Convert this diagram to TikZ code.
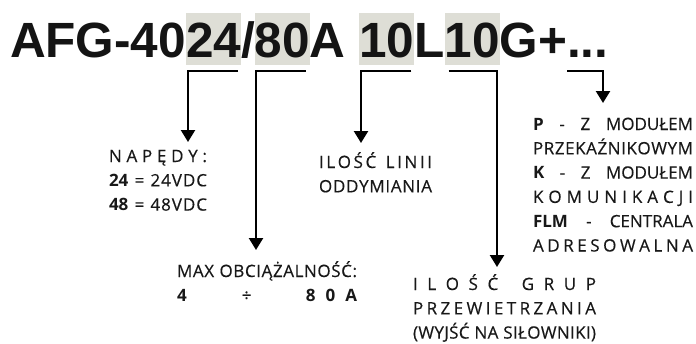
\documentclass[tikz,border=0pt]{standalone}
\usepackage{fontspec}
\setmainfont{Open Sans}[UprightFeatures={FakeBold=0.35}]
\newfontfamily\titlefont{Liberation Sans}
\usetikzlibrary{arrows.meta,calc}
\definecolor{boxgray}{RGB}{222,222,214}
\definecolor{ink}{RGB}{24,24,24}
\makeatletter
\def\spr@stop{\spr@stop}
\def\spr@bar{|}
\newcommand\spl[2]{\hbox to #1{\spr@first#2\spr@stop}}
\def\spr@first#1{{#1}\spr@ad}
\def\spr@ad#1{\def\spr@tmp{#1}\ifx\spr@tmp\spr@stop\else\hfill\spr@one{#1}\expandafter\spr@ad\fi}
\def\spr@one#1{\def\spr@tmp{#1}\ifx\spr@tmp\spr@bar\hspace{0.25em}\else{#1}\fi}
\makeatother
\newcommand\lines[1]{\vtop{\baselineskip=24.3pt\lineskiplimit=-30pt\lineskip=0pt #1}}
\begin{document}
\begin{tikzpicture}[x=1pt,y=-1pt,
  tt/.style={inner sep=0pt, outer sep=0pt, anchor=base west,
    font=\titlefont\bfseries\fontsize{49.5}{50}\selectfont, text=black!92},
  hb/.style={tt, fill=boxgray, text height=44pt, text depth=8pt},
  arr/.style={line width=2.3pt, -{Triangle[width=14pt,length=12pt]}},
  blk/.style={inner sep=0pt, outer sep=0pt, anchor=base west,
    font=\fontsize{17}{24.3}\selectfont, text=ink}]
\fill[white] (0,0) rectangle (696,343);
\useasboundingbox (0,0) rectangle (696,343);
% title
\node[tt] (t1) at (10,57) {AFG-40};
\node[hb] (b1) at (t1.base east) {24};
\node[tt] (t2) at (b1.base east) {/};
\node[hb] (b2) at (t2.base east) {80};
\node[tt] (t3) at (b2.base east) {A\kern0.278em};
\node[hb] (b3) at (t3.base east) {10};
\node[tt] (t4) at (b3.base east) {L};
\node[hb] (b4) at (t4.base east) {10};
\node[tt] (t5) at (b4.base east) {G+};
\node[tt] (t6) at (t5.base east) {...};
% text blocks
\node[blk] (napedy) at (109,162) {\lines{%
  \spl{98pt}{NAPĘDY:}
  \spl{98pt}{{\bfseries 24}|=|24VDC}
  \spl{98pt}{{\bfseries 48}|=|48VDC}}};
\node[blk] (obc) at (177,277) {\lines{%
  \spl{180pt}{MAX|OBCIĄŻALNOŚĆ:}
  \hbox to 180pt{{\bfseries 4}\hspace{55pt}÷\hfill{\bfseries 8\hspace{10pt}0\hspace{10pt}A}}}};
\node[blk] (linii) at (319,168) {\lines{%
  \spl{113pt}{ILOŚĆ|LINII}
  \spl{113pt}{ODDYMIANIA}}};
\node[blk] (grup) at (413,290) {\lines{%
  \spl{183pt}{ILOŚĆ|GRUP}
  \spl{183pt}{PRZEWIETRZANIA}
  \spl{183pt}{(WYJŚĆ|NA|SIŁOWNIKI)}}};
\node[blk] (modul) at (533,130) {\lines{%
  \spl{160pt}{{\bfseries P}{-}{Z}{MODUŁEM}}
  \spl{160pt}{PRZEKAŹNIKOWYM}
  \spl{160pt}{{\bfseries K}{-}{Z}{MODUŁEM}}
  \spl{160pt}{KOMUNIKACJI}
  \spl{160pt}{{\bfseries FLM}{-}{CENTRALA}}
  \spl{160pt}{ADRESOWALNA}}};
% connectors
\coordinate (k1) at ([xshift=-3pt,yshift=-6pt]b1.south east);
\coordinate (a1) at (188,142);
\coordinate (k2) at ([xshift=-4pt,yshift=-6pt]b2.south east);
\coordinate (a2) at (256,250);
\coordinate (k3) at ([xshift=-3pt,yshift=-6pt]b3.south east);
\coordinate (a3) at (361,143);
\coordinate (k4) at ([xshift=4pt,yshift=-6pt]b4.south west);
\coordinate (a4) at (497,267);
\coordinate (k5) at ([yshift=-14pt]t6.base west);
\coordinate (a5) at (603,103);
\draw[arr] (k1) -| (a1);
\draw[arr] (k2) -| (a2);
\draw[arr] (k3) -| (a3);
\draw[arr] (k4) -| (a4);
\draw[arr] (k5) -| (a5);
\end{tikzpicture}
\end{document}
